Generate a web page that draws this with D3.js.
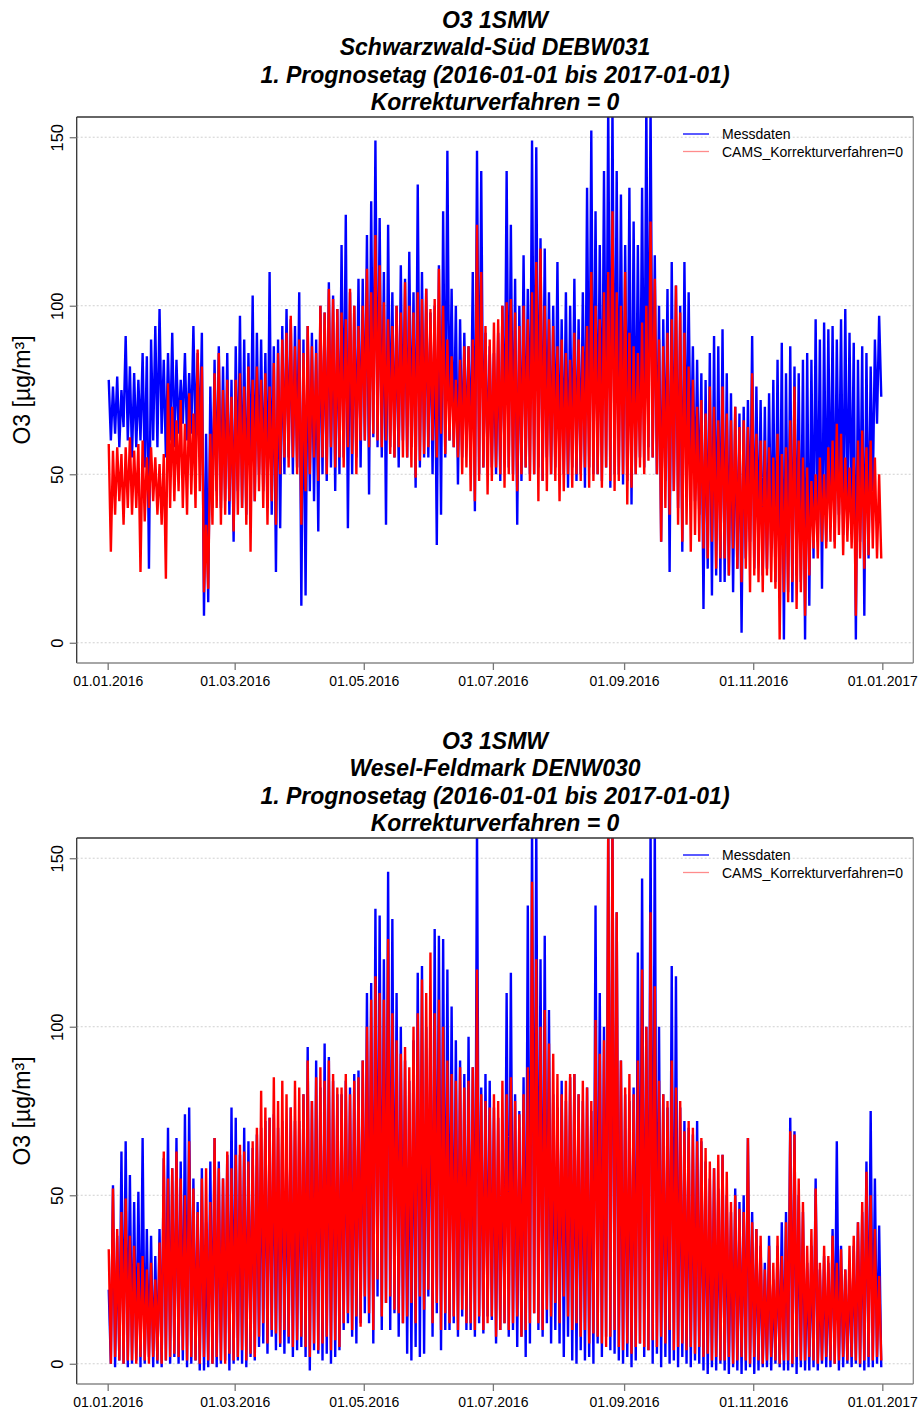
<!DOCTYPE html>
<html>
<head>
<meta charset="utf-8">
<script src="https://cdn.jsdelivr.net/npm/d3@7"></script>
<style>
body { margin: 0; background: #fff; }
text { font-family: "Liberation Sans", Arial, Helvetica, sans-serif; }
</style>
</head>
<body>
<svg id="chart" width="920" height="1410"></svg>
<script>
// ---------------- data ----------------
const xTickDates = ["2016-01-01", "2016-03-01", "2016-05-01", "2016-07-01", "2016-09-01", "2016-11-01", "2017-01-01"];
const xTickLabels = ["01.01.2016", "01.03.2016", "01.05.2016", "01.07.2016", "01.09.2016", "01.11.2016", "01.01.2017"];
const yTicks = [0, 50, 100, 150];
const seriesNames = ["Messdaten", "CAMS_Korrekturverfahren=0"];
const titleLine1 = "O3 1SMW";
const stationNames = ["Schwarzwald-Süd DEBW031", "Wesel-Feldmark DENW030"];
const titleLine3 = "1. Prognosetag (2016-01-01 bis 2017-01-01)";
const titleLine4 = "Korrekturverfahren = 0";
const yLabel = "O3  [µg/m³]";
const periodStart = "2016-01-01";
const periodEnd = "2017-01-01";
const slotDays = 2; // each value pair below covers two days: [max, min]

// Station 1 (Schwarzwald-Süd) – Messdaten, 2-day maxima / minima
const mess1Hi = [78,76,79,75,91, 82,80,78,86,85, 90,94,99,84,86, 92,84,78,86,80, 94,86,92,62,76,
  84,88,82,86,78, 88,97,90,86,103, 92,90,86,110,88, 90,94,99,96,94, 104,90,94,92,90,
  100,98,107,103,99, 118,127,104,100,108, 108,121,131,149,126, 110,124,104,100,112, 108,116,104,136,110,
  105,98,100,112,128, 146,105,100,96,92, 88,110,146,140,92, 88,86,92,100,140, 124,108,100,115,105,
  149,147,120,117,104, 100,113,96,104,100, 108,96,104,135,152, 128,118,140,160,160, 140,133,118,135,125,
  118,135,160,160,115, 100,96,105,113,106, 100,113,104,88,84, 80,78,86,91,88, 93,80,74,70,68,
  70,72,91,76,72, 70,74,78,84,89, 80,88,82,80,84, 86,84,96,90,95, 93,94,90,96,99,
  92,89,84,88,86, 82,90,97];
const mess1Lo = [60,62,58,64,60, 55,58,60,52,22, 60,58,62,55,60, 58,62,65,60,62, 60,58,8,12,40,
  45,40,42,38,30, 45,40,38,48,42, 50,45,40,38,21, 34,50,55,50,52, 11,14,45,42,33,
  50,48,52,45,50, 55,34,50,55,52, 60,44,61,58,55, 35,58,55,52,60, 55,58,46,52,55,
  55,50,29,38,55, 60,58,47,55,58, 55,39,50,52,55, 52,50,48,55,52, 50,35,48,52,50,
  50,52,48,55,50, 52,48,50,46,52, 48,50,46,52,50, 50,48,52,46,50, 50,47,48,41,50,
  55,52,58,55,50, 30,48,21,45,40, 27,48,50,42,38, 10,22,14,20,18, 18,20,15,22,3,
  25,30,22,28,20, 22,28,18,14,1, 15,12,20,18,1, 11,25,30,16,30, 35,30,38,32,35,
  35,1,30,8,25, 45,65,73];
// Station 1 – CAMS forecast
const cams1Hi = [59,57,58,56,58, 61,57,59,60,55, 58,55,53,56,77, 70,66,72,65,74, 68,87,82,35,62,
  80,86,75,78,73, 78,80,76,82,78, 82,78,80,76,83, 86,90,92,97,88, 90,86,94,88,86,
  100,98,105,102,99, 98,96,105,100,94, 100,111,104,121,112, 101,96,94,100,98, 107,100,98,104,102,
  105,99,102,111,100, 90,85,78,84,88, 88,90,124,110,94, 90,95,96,100,101, 102,98,94,100,96,
  104,113,117,100,96, 94,88,90,86,84, 92,90,88,94,110, 100,96,104,110,128, 104,100,110,92,88,
  86,95,100,125,108, 90,88,92,96,106, 98,92,82,78,70, 72,68,76,70,66, 76,68,66,70,64,
  66,64,80,62,60, 60,58,55,62,56, 58,66,76,60,55, 52,48,50,55,50, 58,60,65,62,55,
  52,55,60,63,58, 60,55,50];
const cams1Lo = [27,38,42,35,40, 38,40,21,36,40, 42,38,35,19,40, 42,45,40,38,44, 40,45,15,16,35,
  40,35,38,42,33, 38,40,35,27,42, 45,40,35,42,35, 50,55,52,55,50, 35,45,50,55,48,
  55,50,58,52,55, 52,58,56,50,60, 60,58,62,60,58, 60,56,55,58,55, 55,52,49,54,56,
  58,60,55,62,56, 60,58,55,50,52, 45,42,48,52,44, 48,52,50,46,50, 48,45,50,52,48,
  50,42,48,45,50, 48,42,45,50,46, 50,48,52,46,48, 50,46,52,48,45, 48,50,41,46,50,
  52,50,54,55,50, 30,40,38,45,35, 30,35,27,32,30, 28,25,30,22,25, 25,20,28,22,18,
  22,15,20,18,15, 20,18,16,1,15, 12,18,10,15,8, 20,28,25,30,28, 30,28,32,26,30,
  28,8,25,22,26, 28,25,25];

// Station 2 (Wesel-Feldmark) – Messdaten
const mess2Hi = [22,53,38,63,66, 56,48,51,67,40, 38,32,40,61,70, 58,67,60,74,76, 55,48,58,42,60,
  67,60,55,62,76, 73,62,70,66,64, 68,70,72,73,74, 70,72,68,76,72, 72,80,94,78,90,
  82,95,91,84,80, 80,84,82,86,87, 90,110,113,135,133, 120,146,132,110,100, 90,84,96,116,118,
  100,105,129,127,126, 117,106,96,90,86, 97,88,160,82,86, 84,76,73,70,110, 116,80,75,85,136,
  160,160,120,127,105, 80,76,84,78,85, 86,80,78,82,75, 136,110,100,160,160, 134,90,80,78,82,
  122,144,100,160,160, 100,80,76,118,115, 76,72,70,68,72, 66,60,55,58,52, 62,50,45,52,48,
  50,67,45,40,35, 30,38,25,35,42, 45,73,69,50,45, 30,35,55,28,32, 30,40,66,35,28,
  30,35,42,45,60, 75,55,41];
const mess2Lo = [0,-1,1,0,-1, 0,1,-1,0,2, -1,0,-1,1,0, 2,0,1,-1,0, 1,-2,-2,-1,0,
  -1,0,1,-2,0, 1,0,-1,2,1, 5,6,3,8,4, 5,3,6,2,4, 5,2,-2,4,3,
  1,3,0,2,4, 10,12,8,6,12, 15,12,6,20,10, 18,10,15,8,12, 3,1,5,2,3,
  20,8,15,4,10, 10,12,8,14,10, 10,8,12,9,14, 13,6,10,12,8, 10,5,8,2,6,
  15,10,8,12,6, 10,6,2,8,1, 0,4,1,2,0, 6,2,8,4,3, 1,0,2,-1,1,
  6,2,4,0,3, -1,2,0,1,-1, 2,0,-1,1,0, -2,-3,-1,-2,0, -2,-3,-1,-2,-3,
  -2,-1,-3,-2,-1, -1,-2,0,-1,-2, -2,-1,-3,-1,-2, -2,-1,-2,0,-1, -1,0,-2,-1,0,
  -1,0,-1,-2,-1, -1,0,-1];
// Station 2 – CAMS forecast
const cams2Hi = [34,52,40,45,49, 38,35,30,32,28, 30,25,36,63,55, 58,63,55,50,66, 52,45,55,58,48,
  67,58,55,63,58, 62,65,63,60,66, 70,81,76,73,85, 78,84,80,76,84, 82,80,90,78,85,
  88,84,90,86,82, 82,86,80,84,85, 90,100,108,115,110, 108,126,104,96,92, 94,88,100,104,114,
  110,122,104,108,100, 90,86,84,88,82, 84,88,117,80,78, 76,80,78,84,80, 85,78,74,80,88,
  143,120,100,105,95, 92,86,80,84,86, 86,80,84,82,78, 102,92,96,160,160, 134,90,82,86,80,
  90,117,100,134,112, 84,80,78,90,82, 78,69,72,70,66, 67,64,60,58,62, 62,57,48,50,46,
  45,67,42,40,38, 28,35,30,38,32, 42,69,68,55,48, 35,40,52,30,35, 32,38,30,34,28,
  35,38,42,48,57, 50,40,26];
const cams2Lo = [0,2,1,0,1, 1,0,2,1,0, 2,1,0,1,2, 3,2,4,1,2, 1,0,2,1,0,
  2,1,0,3,1, 2,4,1,3,2, 8,12,6,10,9, 6,10,8,5,7, 8,5,2,6,4,
  6,8,4,7,5, 12,15,10,14,11, 20,15,10,25,14, 18,20,16,15,12, 14,18,12,20,16,
  22,12,18,10,15, 12,14,10,16,12, 12,10,14,10,12, 14,8,10,12,10, 12,14,8,10,12,
  15,12,10,16,14, 18,12,20,14,10, 12,8,10,6,9, 8,6,5,8,10, 5,4,6,3,5,
  6,5,4,7,5, 8,6,10,4,5, 6,4,5,3,5, 2,3,1,2,1, 1,2,0,1,2,
  1,0,2,1,0, 1,2,1,0,1, 1,0,2,1,1, 2,1,0,1,2, 1,0,1,2,1,
  2,1,0,1,2, 1,2,1];

const seriesColors = ["#0000ff", "#ff0000"];

// ---------------- drawing ----------------
const svg = d3.select("#chart");
const DAY = 86400000;
const t0 = new Date(periodStart + "T00:00:00Z");
const t1 = new Date(periodEnd + "T00:00:00Z");
const pad = (t1 - t0) * 0.04;

const panels = [
  { station: stationNames[0], series: [[mess1Hi, mess1Lo], [cams1Hi, cams1Lo]] },
  { station: stationNames[1], series: [[mess2Hi, mess2Lo], [cams2Hi, cams2Lo]] }
];

const plotLeft = 76.7, plotRight = 913.3, panelStep = 721;

function toPoints(hi, lo) {
  const pts = [];
  hi.forEach((h, i) => {
    pts.push({ t: new Date(t0.getTime() + (i * slotDays + 0.5) * DAY), v: h });
    pts.push({ t: new Date(t0.getTime() + (i * slotDays + 1.5) * DAY), v: lo[i] });
  });
  return pts;
}

panels.forEach((p, pi) => {
  const off = pi * panelStep;
  const top = 117 + off, bottom = 663 + off;
  const g = svg.append("g");

  const x = d3.scaleUtc()
    .domain([new Date(t0.getTime() - pad), new Date(t1.getTime() + pad)])
    .range([plotLeft, plotRight]);
  const y = d3.scaleLinear().domain([-6, 156]).range([bottom, top]);

  // titles
  const titles = [titleLine1, p.station, titleLine3, titleLine4];
  titles.forEach((t, i) => {
    g.append("text")
      .attr("x", (plotLeft + plotRight) / 2)
      .attr("y", 27.5 + off + i * 27.6)
      .attr("text-anchor", "middle")
      .attr("font-size", 23)
      .attr("font-weight", "bold")
      .attr("font-style", "italic")
      .attr("fill", "#000")
      .text(t);
  });

  // clip
  const clipId = "clip" + pi;
  svg.append("clipPath").attr("id", clipId)
    .append("rect").attr("x", plotLeft).attr("y", top)
    .attr("width", plotRight - plotLeft).attr("height", bottom - top);

  // grid
  g.selectAll(".grid").data(yTicks).enter().append("line")
    .attr("x1", plotLeft).attr("x2", plotRight)
    .attr("y1", d => y(d)).attr("y2", d => y(d))
    .attr("stroke", "#d0d0d0").attr("stroke-width", 1)
    .attr("stroke-dasharray", "2,2");

  // series
  const line = d3.line().x(d => x(d.t)).y(d => y(d.v));
  const dataG = g.append("g").attr("clip-path", `url(#${clipId})`);
  p.series.forEach((s, si) => {
    dataG.append("path")
      .datum(toPoints(s[0], s[1]))
      .attr("d", line)
      .attr("fill", "none")
      .attr("stroke", seriesColors[si])
      .attr("stroke-width", 2.4)
      .attr("stroke-linejoin", "bevel");
  });

  // box
  g.append("line").attr("x1", plotLeft).attr("x2", plotRight).attr("y1", top).attr("y2", top)
    .attr("stroke", "#333").attr("stroke-width", 1.3);
  g.append("line").attr("x1", plotLeft).attr("x2", plotLeft).attr("y1", top).attr("y2", bottom)
    .attr("stroke", "#333").attr("stroke-width", 1.3);
  g.append("line").attr("x1", plotLeft).attr("x2", plotRight).attr("y1", bottom).attr("y2", bottom)
    .attr("stroke", "#888").attr("stroke-width", 1.3);
  g.append("line").attr("x1", plotRight).attr("x2", plotRight).attr("y1", top).attr("y2", bottom)
    .attr("stroke", "#888").attr("stroke-width", 1.3);

  // x axis
  const tickDates = xTickDates.map(d => new Date(d + "T00:00:00Z"));
  const xAxis = d3.axisBottom(x).tickValues(tickDates)
    .tickFormat((d, i) => xTickLabels[i]).tickSize(7).tickPadding(6);
  const xg = g.append("g").attr("transform", `translate(0,${bottom})`).call(xAxis);
  xg.select(".domain").remove();
  xg.selectAll(".tick line").attr("stroke", "#777").attr("stroke-width", 1.3);
  xg.selectAll(".tick text").attr("font-size", 14).attr("fill", "#000")
    .attr("font-family", "Liberation Sans, Arial, sans-serif");

  // y axis
  const yAxis = d3.axisLeft(y).tickValues(yTicks).tickSize(7);
  const yg = g.append("g").attr("transform", `translate(${plotLeft},0)`).call(yAxis);
  yg.select(".domain").remove();
  yg.selectAll(".tick line").attr("stroke", "#777").attr("stroke-width", 1.3);
  yg.selectAll(".tick text")
    .attr("transform", "rotate(-90)")
    .attr("x", 0).attr("y", -14).attr("dy", 0)
    .attr("text-anchor", "middle")
    .attr("font-size", 16.5).attr("fill", "#000")
    .attr("font-family", "Liberation Sans, Arial, sans-serif");

  // y label
  g.append("text")
    .attr("transform", `translate(30,${(top + bottom) / 2}) rotate(-90)`)
    .attr("text-anchor", "middle")
    .attr("font-size", 23)
    .attr("fill", "#000")
    .text(yLabel);

  // legend
  const legendColors = ["#0000ff", "#ff8c8c"];
  seriesNames.forEach((n, i) => {
    const ly = 134 + off + i * 17.5;
    g.append("line").attr("x1", 683).attr("x2", 709).attr("y1", ly).attr("y2", ly)
      .attr("stroke", legendColors[i]).attr("stroke-width", 1.3);
    g.append("text").attr("x", 722).attr("y", ly + 5)
      .attr("font-size", 14).attr("fill", "#000").text(n);
  });
});
</script>
</body>
</html>
